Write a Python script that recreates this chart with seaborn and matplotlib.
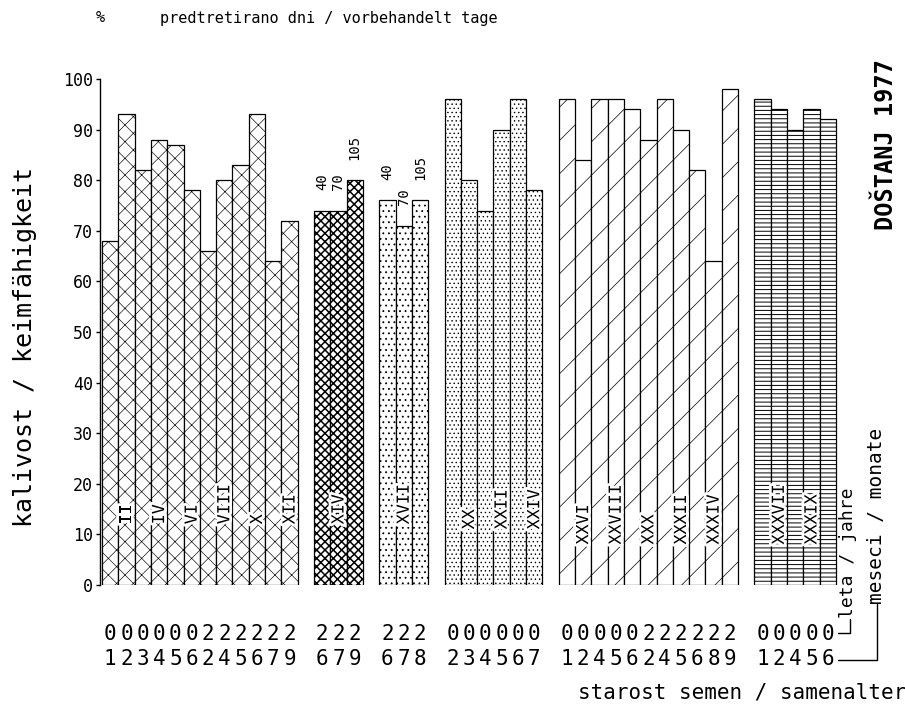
import matplotlib
matplotlib.use("Agg")
import matplotlib.pyplot as plt
import matplotlib.patheffects as pe
from matplotlib.lines import Line2D
import pandas as pd
import seaborn as sns

# Germination (%) of seed lots, grouped by series; each lot is labelled
# by seed age: years (upper row) and months (lower row).
g1_years  = [0, 0, 0, 0, 0, 0, 2, 2, 2, 2, 2, 2]
g1_months = [1, 2, 3, 4, 5, 6, 2, 4, 5, 6, 7, 9]
g1_values = [68, 93, 82, 88, 87, 78, 66, 80, 83, 93, 64, 72]
g1_roman  = ["", "II", "", "IV", "", "VI", "", "VIII", "", "X", "", "XII"]

g2_years  = [2, 2, 2]
g2_months = [6, 7, 9]
g2_values = [74, 74, 80]
g2_roman  = ["", "XIV", ""]

g3_years  = [2, 2, 2]
g3_months = [6, 7, 8]
g3_values = [76, 71, 76]
g3_roman  = ["", "XVII", ""]

g4_years  = [0, 0, 0, 0, 0, 0]
g4_months = [2, 3, 4, 5, 6, 7]
g4_values = [96, 80, 74, 90, 96, 78]
g4_roman  = ["", "XX", "", "XXII", "", "XXIV"]

g5_years  = [0, 0, 0, 0, 0, 2, 2, 2, 2, 2, 2]
g5_months = [1, 2, 4, 5, 6, 2, 4, 5, 6, 8, 9]
g5_values = [96, 84, 96, 96, 94, 88, 96, 90, 82, 64, 98]
g5_roman  = ["", "XXVI", "", "XXVIII", "", "XXX", "", "XXXII", "", "XXXIV", ""]

g6_years  = [0, 0, 0, 0, 0]
g6_months = [1, 2, 4, 5, 6]
g6_values = [96, 94, 90, 94, 92]
g6_roman  = ["", "XXXVII", "", "XXXIX", ""]

pretreat_days = ["40", "70", "105"]     # days of pretreatment (series 2 and 3)
pretreated_groups = [2, 3]
y_ticks = [0, 10, 20, 30, 40, 50, 60, 70, 80, 90, 100]

groups = [
    (g1_years, g1_months, g1_values, g1_roman),
    (g2_years, g2_months, g2_values, g2_roman),
    (g3_years, g3_months, g3_values, g3_roman),
    (g4_years, g4_months, g4_values, g4_roman),
    (g5_years, g5_months, g5_values, g5_roman),
    (g6_years, g6_months, g6_values, g6_roman),
]

rows = []
order = []
n = 0
for gi, (yrs, mos, vals, rom) in enumerate(groups, start=1):
    if gi > 1:
        order.append(f"gap{gi}")          # empty slot between series
    for k, (y, m, v, r) in enumerate(zip(yrs, mos, vals, rom)):
        n += 1
        lot = f"lot{n:02d}"
        order.append(lot)
        rows.append(dict(lot=lot, group=gi, idx=k, years=y, months=m,
                         value=v, roman=r))
df = pd.DataFrame(rows)

# fill pattern and hatch weight of each series
hatches = {1: "xx", 2: "xxxx", 3: "...", 4: "....", 5: "/", 6: "----"}
hatch_lw = {1: 0.45, 2: 1.1, 3: 0.6, 4: 0.5, 5: 0.5, 6: 0.7}
roman_base = {1: 12, 2: 12, 3: 12, 4: 11, 5: 8, 6: 8}

sns.set_theme(style="white")
plt.rcParams["font.family"] = ["DejaVu Sans Mono", "DejaVu Sans"]
plt.rcParams["hatch.linewidth"] = 0.6
plt.rcParams["hatch.color"] = "black"
for key in ["text.color", "axes.labelcolor", "xtick.color", "ytick.color"]:
    plt.rcParams[key] = "black"

W, H = 905, 708
fig = plt.figure(figsize=(W / 100, H / 100), dpi=100)
fig.patch.set_facecolor("white")

def fx(px):
    return px / W

def fy(py):
    return 1 - py / H

ax = fig.add_axes([fx(100), fy(585), fx(740), 506 / H])

sns.barplot(data=df, x="lot", y="value", order=order, color="white",
            edgecolor="black", linewidth=0.9, width=1.0, saturation=1,
            errorbar=None, ax=ax)

slot_px = 16.31
x0 = -0.5 - 2 / slot_px
ax.set_xlim(x0, x0 + 740 / slot_px)
ax.set_ylim(0, 100)

pos = {lot: order.index(lot) for lot in df["lot"]}
lot_at = {order.index(l): l for l in df["lot"]}
info = df.set_index("lot")

for patch in ax.patches:
    c = int(round(patch.get_x() + patch.get_width() / 2))
    lot = lot_at.get(c)
    if lot is None:
        continue
    g = info.loc[lot, "group"]
    patch.set_hatch(hatches[g])
    if hasattr(patch, "set_hatch_linewidth"):
        patch.set_hatch_linewidth(hatch_lw[g])
    patch.set_facecolor("white")
    patch.set_edgecolor("black")

# seed-age tick labels: years over months
ax.set_xticks([pos[l] for l in df["lot"]])
ax.set_xticklabels([f"{y}\n{m}" for y, m in zip(df["years"], df["months"])])
ax.tick_params(axis="x", length=0, pad=28, labelsize=15)
for t in ax.get_xticklabels():
    t.set_linespacing(1.3)
ax.set_xlabel("")

ax.set_yticks(y_ticks)
ax.set_yticklabels([str(v) for v in y_ticks])
ax.tick_params(axis="y", left=True, length=3, width=1, pad=2,
               labelsize=12, direction="out", color="black")

for s in ["top", "right", "bottom"]:
    ax.spines[s].set_visible(False)
ax.spines["left"].set_color("black")
ax.spines["left"].set_linewidth(1)

ax.set_ylabel("kalivost / keimfähigkeit", fontsize=18)
ax.yaxis.set_label_coords(-0.085, 0.47)

# roman lot numbers inside the bars
halo = [pe.withStroke(linewidth=4, foreground="white")]
for _, r in df.iterrows():
    if r["roman"]:
        ax.text(pos[r["lot"]], roman_base[r["group"]], r["roman"],
                rotation=90, ha="center", va="bottom", fontsize=12,
                color="black", zorder=5, path_effects=halo)

# pretreatment days above series 2 and 3
for _, r in df[df["group"].isin(pretreated_groups)].iterrows():
    ax.text(pos[r["lot"]], r["value"] + 4, pretreat_days[r["idx"]],
            rotation=90, ha="center", va="bottom", fontsize=10)

# headings and side texts
fig.text(fx(100), fy(18), "%", ha="center", va="center", fontsize=11)
fig.text(fx(160), fy(18), "predtretirano dni / vorbehandelt tage",
         ha="left", va="center", fontsize=11)
fig.text(fx(886), fy(145), "DOŠTANJ 1977", rotation=90, ha="center",
         va="center", fontsize=17, fontweight="bold")
fig.text(fx(848), fy(618), "leta / jahre", rotation=90, ha="center",
         va="bottom", fontsize=13)
fig.text(fx(876), fy(604), "meseci / monate", rotation=90, ha="center",
         va="bottom", fontsize=14)
fig.text(fx(578), fy(693), "starost semen / samenalter", ha="left",
         va="center", fontsize=15)

# connectors from the tick-label rows to their captions
for xs, ys in [([838, 850, 850], [633, 633, 619]),
               ([838, 877, 877], [660, 660, 604])]:
    fig.add_artist(Line2D([fx(v) for v in xs], [fy(v) for v in ys],
                          transform=fig.transFigure, color="black", lw=1))

fig.savefig("out.png", dpi=100, facecolor="white")
